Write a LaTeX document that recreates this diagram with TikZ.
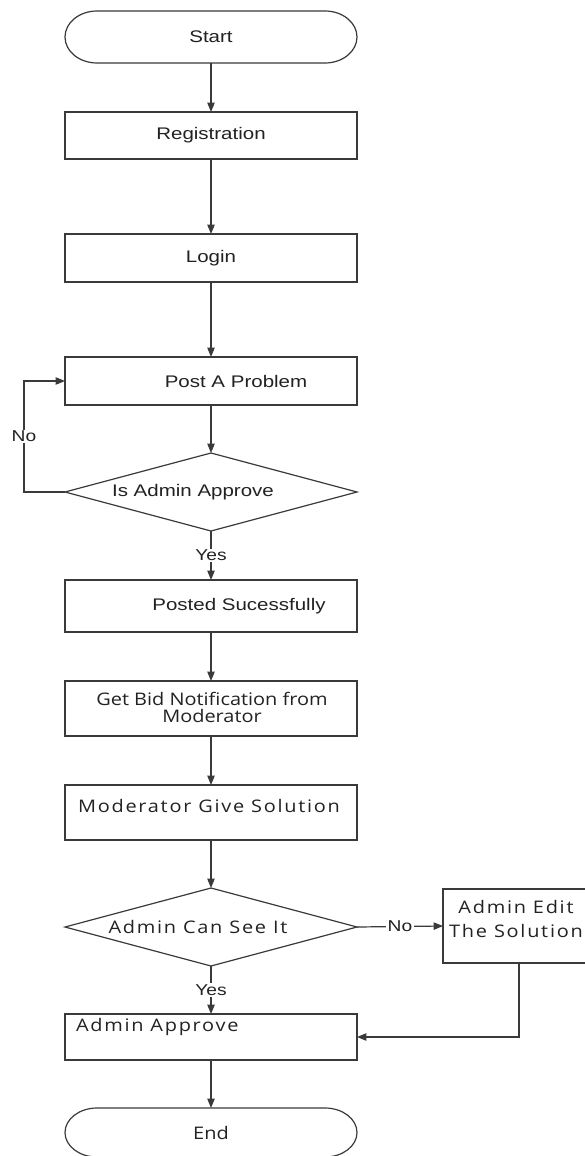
\documentclass[tikz,border=0pt]{standalone}
\usepackage{fontspec}
\setmainfont[FakeStretch=1.22]{Liberation Sans}
\newfontfamily\lowf[FakeStretch=1.15]{Open Sans}
\newfontfamily\lowspf[FakeStretch=1.15,LetterSpace=10]{Open Sans}
\usetikzlibrary{shapes.geometric,arrows.meta}
\definecolor{lineg}{HTML}{3A3A3A}
\definecolor{txt}{HTML}{222222}
\begin{document}
\begin{tikzpicture}[x=0.75pt,y=-0.75pt,line width=0.9pt,
  every node/.style={inner sep=0pt,outer sep=0pt,text=txt,font=\fontsize{12.6pt}{14pt}\selectfont},
  box/.style={draw=lineg,rectangle,minimum width=219pt},
  term/.style={rectangle,minimum width=219pt},
  dia/.style={draw=lineg,diamond,aspect=3.75,minimum width=219pt,minimum height=58.5pt},
  arr/.style={draw=lineg,-{Triangle[length=7pt,width=5.5pt]}},
  lbl/.style={font=\fontsize{11.8pt}{13pt}\selectfont,fill=white,inner sep=1pt},
  low/.style={font=\lowf\fontsize{13pt}{12.75pt}\selectfont},
  lowsp/.style={font=\lowspf\fontsize{13pt}{18pt}\selectfont},
  ledge/.style={draw=lineg,line width=2.2pt}]
\useasboundingbox (0,0) rectangle (585,1156);
\clip (0,0) rectangle (585,1156);
\fill[white] (0,0) rectangle (585,1156);

% Start
\node[term,minimum height=39pt] (s) at (211,37) {Start};
\draw[lineg] ([xshift=24pt]s.north west) -- ([xshift=-24pt]s.north east)
  arc[start angle=90,end angle=-90,x radius=24pt,y radius=19.5pt]
  -- ([xshift=24pt]s.south west)
  arc[start angle=270,end angle=90,x radius=24pt,y radius=19.5pt] -- cycle;

\node[box,minimum height=35.25pt] (reg) at (211,135.5) {Registration};
\node[box,minimum height=36pt] (login) at (211,258) {Login};
\node[box,minimum height=36pt] (post) at (211,381) {\hspace*{37.5pt}Post A Problem};
\node[dia] (d1) at (211,492) {};
\node at (193,492) {Is Admin Approve};
\node[box,minimum height=39pt] (posted) at (211,606) {\hspace*{42pt}Posted Sucessfully};

\node[box,minimum height=41.25pt] (bid) at (211,708.5) {};
\node[low,align=center] at (212,707.5) {Get Bid Notification from\\Moderator};
\node[box,minimum height=41.25pt] (mod) at (211,812.5) {};
\node[lowsp] at (209,806) {Moderator Give Solution};
\node[dia] (d2) at (211,927) {};
\node[lowsp] at (198,927) {Admin Can See It};
\node[box,minimum width=114pt,minimum height=55.5pt] (edit) at (519,926) {};
\node[lowsp,align=center] at (516,919) {Admin Edit\\The Solution};
\node[box,minimum height=34.5pt] (appr) at (211,1037) {};
\node[lowsp,anchor=west] at (76,1027) {Admin Approve};

% End
\node[term,minimum height=36.75pt,low] (e) at (211,1132.5) {End};
\draw[lineg] ([xshift=24pt]e.north west) -- ([xshift=-24pt]e.north east)
  arc[start angle=90,end angle=-90,x radius=24pt,y radius=18.375pt]
  -- ([xshift=24pt]e.south west)
  arc[start angle=270,end angle=90,x radius=24pt,y radius=18.375pt] -- cycle;

% thick left edges
\foreach \n in {reg,post,posted,bid,mod,appr}
  \draw[ledge] (\n.north west) -- (\n.south west);

% connectors
\draw[arr] (s.south) -- (reg.north);
\draw[arr] (reg.south) -- (login.north);
\draw[arr] (login.south) -- (post.north);
\draw[arr] (post.south) -- (d1.north);
\draw[arr] (d1.west) -- ++(-41,0) |- (post.west) node[pos=0.25,lbl] {No};
\draw[arr] (d1.south) -- (posted.north) node[midway,lbl] {Yes};
\draw[arr] (posted.south) -- (bid.north);
\draw[arr] (bid.south) -- (mod.north);
\draw[arr] (mod.south) -- (d2.north);
\draw[arr] (d2.east) -- (edit.west) node[midway,lbl] {No};
\draw[arr] (d2.south) -- (appr.north) node[midway,lbl] {Yes};
\draw[arr] (edit.south) |- (appr.east);
\draw[arr] (appr.south) -- (e.north);
\end{tikzpicture}
\end{document}
